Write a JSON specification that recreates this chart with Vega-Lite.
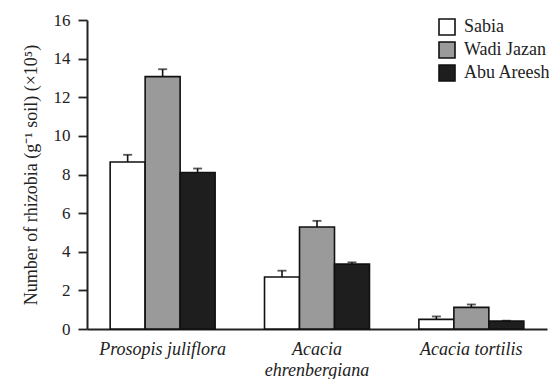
{
  "$schema": "https://vega.github.io/schema/vega-lite/v6.json",
  "autosize": {"type": "none"},
  "padding": {"left": 87, "top": 20, "right": 2, "bottom": 50},
  "width": 460,
  "height": 309,
  "background": "white",
  "data": {
    "values": [
      {"species": "Prosopis juliflora", "site": "Sabia", "value": 8.65, "upper": 9.02},
      {"species": "Prosopis juliflora", "site": "Wadi Jazan", "value": 13.07, "upper": 13.45},
      {"species": "Prosopis juliflora", "site": "Abu Areesh", "value": 8.1, "upper": 8.31},
      {"species": "Acacia ehrenbergiana", "site": "Sabia", "value": 2.69, "upper": 3.02},
      {"species": "Acacia ehrenbergiana", "site": "Wadi Jazan", "value": 5.28, "upper": 5.6},
      {"species": "Acacia ehrenbergiana", "site": "Abu Areesh", "value": 3.36, "upper": 3.45},
      {"species": "Acacia tortilis", "site": "Sabia", "value": 0.5, "upper": 0.65},
      {"species": "Acacia tortilis", "site": "Wadi Jazan", "value": 1.12, "upper": 1.27},
      {"species": "Acacia tortilis", "site": "Abu Areesh", "value": 0.41, "upper": 0.43}
    ]
  },
  "encoding": {
    "x": {
      "field": "species",
      "type": "nominal",
      "sort": ["Prosopis juliflora", "Acacia ehrenbergiana", "Acacia tortilis"],
      "scale": {"paddingInner": 0.32, "paddingOuter": 0.15},
      "axis": {
        "title": null,
        "labelAngle": 0,
        "labelFont": "Liberation Serif",
        "labelFontStyle": "italic",
        "labelFontSize": 18,
        "labelColor": "#222",
        "labelPadding": 11,
        "labelLineHeight": 21,
        "labelExpr": "datum.label == 'Acacia ehrenbergiana' ? ['Acacia', 'ehrenbergiana'] : datum.label",
        "ticks": false,
        "domainColor": "#222",
        "domainWidth": 2
      }
    },
    "xOffset": {
      "field": "site",
      "type": "nominal",
      "sort": ["Sabia", "Wadi Jazan", "Abu Areesh"],
      "scale": {"paddingInner": 0, "paddingOuter": 0}
    }
  },
  "layer": [
    {
      "mark": {"type": "bar", "stroke": "#111", "strokeWidth": 1.6},
      "encoding": {
        "y": {
          "field": "value",
          "type": "quantitative",
          "scale": {"domain": [0, 16], "nice": false},
          "axis": {
            "title": "Number of rhizobia (g⁻¹ soil) (×10⁵)",
            "values": [0, 2, 4, 6, 8, 10, 12, 14, 16],
            "labelOverlap": false,
            "grid": false,
            "labelFont": "Liberation Serif",
            "labelFontSize": 17,
            "labelColor": "#222",
            "labelPadding": 8,
            "tickSize": 9,
            "tickColor": "#222",
            "tickWidth": 1.8,
            "domainColor": "#222",
            "domainWidth": 2,
            "titleFont": "Liberation Serif",
            "titleFontSize": 18,
            "titleFontWeight": "normal",
            "titleColor": "#222",
            "titlePadding": 13
          }
        },
        "fill": {
          "field": "site",
          "type": "nominal",
          "sort": ["Sabia", "Wadi Jazan", "Abu Areesh"],
          "scale": {"domain": ["Sabia", "Wadi Jazan", "Abu Areesh"], "range": ["#ffffff", "#9a9a9a", "#1e1e1e"]},
          "legend": {
            "title": null,
            "orient": "none",
            "legendX": 351,
            "legendY": -2,
            "symbolType": "square",
            "symbolSize": 256,
            "symbolStrokeColor": "#111",
            "symbolStrokeWidth": 1.6,
            "labelFont": "Liberation Serif",
            "labelFontSize": 18,
            "labelColor": "#222",
            "labelOffset": 8,
            "rowPadding": -1
          }
        }
      }
    },
    {
      "mark": {"type": "rule", "stroke": "#111", "strokeWidth": 1.6},
      "encoding": {
        "y": {
          "field": "value",
          "type": "quantitative",
          "axis": {
            "title": "Number of rhizobia (g⁻¹ soil) (×10⁵)",
            "values": [0, 2, 4, 6, 8, 10, 12, 14, 16],
            "labelOverlap": false,
            "grid": false,
            "labelFont": "Liberation Serif",
            "labelFontSize": 17,
            "labelColor": "#222",
            "labelPadding": 8,
            "tickSize": 9,
            "tickColor": "#222",
            "tickWidth": 1.8,
            "domainColor": "#222",
            "domainWidth": 2,
            "titleFont": "Liberation Serif",
            "titleFontSize": 18,
            "titleFontWeight": "normal",
            "titleColor": "#222",
            "titlePadding": 13
          }
        },
        "y2": {"field": "upper"}
      }
    },
    {
      "mark": {"type": "tick", "color": "#111", "size": 9, "thickness": 1.8, "orient": "horizontal"},
      "encoding": {
        "y": {
          "field": "upper",
          "type": "quantitative",
          "axis": {
            "title": "Number of rhizobia (g⁻¹ soil) (×10⁵)",
            "values": [0, 2, 4, 6, 8, 10, 12, 14, 16],
            "labelOverlap": false,
            "grid": false,
            "labelFont": "Liberation Serif",
            "labelFontSize": 17,
            "labelColor": "#222",
            "labelPadding": 8,
            "tickSize": 9,
            "tickColor": "#222",
            "tickWidth": 1.8,
            "domainColor": "#222",
            "domainWidth": 2,
            "titleFont": "Liberation Serif",
            "titleFontSize": 18,
            "titleFontWeight": "normal",
            "titleColor": "#222",
            "titlePadding": 13
          }
        }
      }
    }
  ],
  "config": {
    "view": {"stroke": null}
  }
}
